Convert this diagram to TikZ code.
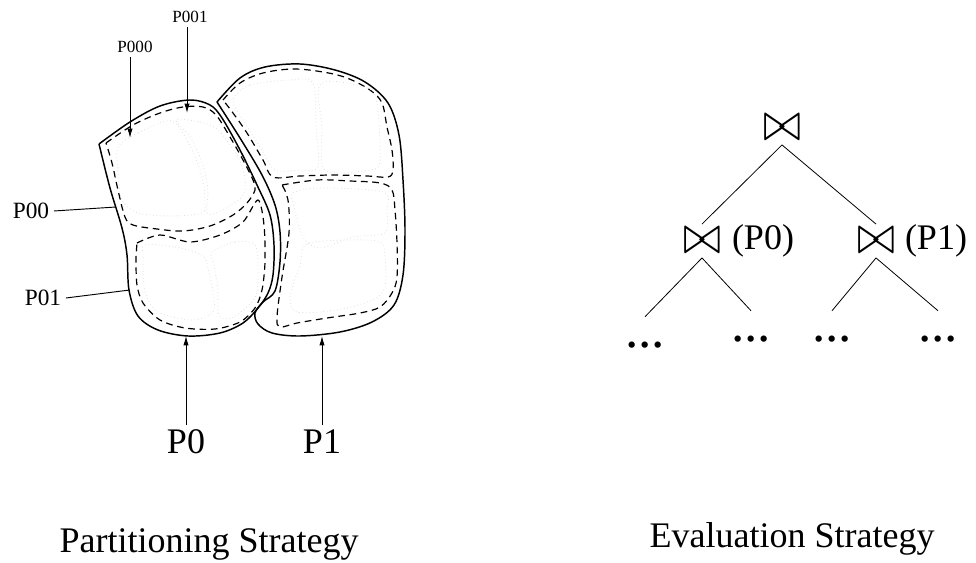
\documentclass[tikz,border=0pt]{standalone}
\usepackage{graphicx}
\usepackage{fontspec}
\setmainfont{Liberation Serif}
\usetikzlibrary{arrows.meta}

\newcommand{\joinsym}{\resizebox{28.5pt}{19pt}{\(\bowtie\)}}

\begin{document}
\begin{tikzpicture}[x=0.75pt,y=-0.75pt,
    outline/.style={line width=1.1pt},
    part/.style={line width=0.9pt,dash pattern=on 5pt off 3.5pt},
    sub/.style={gray!25,line width=0.6pt,dotted},
    pointer/.style={-{Latex[length=7pt,width=4pt]},line width=0.7pt},
    big/.style={font=\fontsize{27}{30}\selectfont},
    mid/.style={font=\fontsize{17.5}{20}\selectfont},
    small/.style={font=\fontsize{12.8}{14}\selectfont},
    joinop/.style={inner sep=0pt,minimum height=25pt},
    dotnode/.style={inner sep=0pt,minimum height=42pt,font=\fontsize{40}{44}\selectfont}]
\useasboundingbox (0,0) rectangle (976,563);

% partition P0 and its two halves
\draw[outline] plot[smooth,tension=0.55] coordinates {(99,144) (130,122) (160,106) (190,100) (210,105) (222,118) (240,150) (257,185) (270,215) (274,245) (273,275) (268,293) (258,308) (243,323) (220,333) (188,336) (158,330) (138,316) (129,290) (127,255) (122,228) (110,188) (99,144)};
\draw[part] plot[smooth,tension=0.55] coordinates {(106,143) (133,125) (160,113) (183,107) (203,107) (216,115) (230,137) (243,160) (253,180) (255,190) (247,203) (233,215) (210,226) (183,231) (157,229) (133,225) (125,217) (118,190) (112,163) (106,143)};
\draw[part] plot[smooth,tension=0.5] coordinates {(137,243) (160,235) (190,242) (220,235) (243,222) (258,200) (264,225) (265,262) (262,290) (255,308) (240,322) (215,329) (185,328) (160,320) (143,303) (137,285) (136,260) (137,243)};
\draw[sub] plot[smooth cycle] coordinates {(118,147) (138,133) (172,121) (192,150) (202,177) (205,200) (202,213) (170,216) (138,213) (122,200) (118,170)};
\draw[sub] plot[smooth cycle] coordinates {(176,120) (200,122) (218,130) (238,157) (245,180) (242,197) (218,212) (207,213) (208,190) (203,165) (191,138)};
\draw[sub] plot[smooth cycle] coordinates {(145,245) (175,247) (202,255) (208,268) (213,292) (213,312) (192,320) (158,312) (145,292) (143,258)};
\draw[sub] plot[smooth cycle] coordinates {(212,252) (235,242) (255,245) (258,272) (255,298) (232,318) (219,315) (218,290) (214,265)};

% partition P1 and its two halves
\draw[outline] plot[smooth,tension=0.55] coordinates {(217,102) (240,78) (265,67) (300,64) (335,70) (365,82) (388,103) (399,135) (403,180) (405,230) (403,275) (394,305) (372,322) (340,332) (300,336) (272,333) (258,324) (255,313) (263,302) (275,291) (280,262) (280,232) (275,205) (262,175) (240,138) (217,102)};
\draw[part] plot[smooth,tension=0.55] coordinates {(223,100) (240,83) (263,73) (293,69) (323,72) (347,78) (370,90) (382,103) (387,127) (392,150) (393,170) (388,177) (367,176) (333,175) (300,176) (273,177) (263,160) (247,133) (233,113) (223,100)};
\draw[part] plot[smooth,tension=0.55] coordinates {(282,185) (317,180) (350,181) (380,183) (392,190) (395,210) (397,243) (397,277) (392,293) (380,307) (360,313) (327,318) (297,323) (280,327) (277,317) (282,277) (289,233) (288,200) (282,185)};
\draw[sub] plot[smooth cycle] coordinates {(233,100) (250,85) (290,80) (313,83) (316,127) (318,167) (300,170) (275,170) (262,150) (243,120)};
\draw[sub] plot[smooth cycle] coordinates {(321,83) (367,88) (377,103) (380,160) (370,170) (325,170) (322,127)};
\draw[sub] plot[smooth cycle] coordinates {(293,193) (320,188) (383,192) (387,210) (385,233) (353,237) (320,248) (303,237) (293,203)};
\draw[sub] plot[smooth cycle] coordinates {(307,244) (350,240) (380,242) (385,257) (385,287) (373,300) (337,310) (297,312) (290,297) (300,265)};

% labels and pointers
\node[small] (p000) at (135,47) {P000};
\node[small] (p001) at (190,17) {P001};
\coordinate (t000) at (130,138);
\coordinate (t001) at (187,113);
\draw[pointer] (p000.south -| t000) -- (t000);
\draw[pointer] (p001.south -| t001) -- (t001);

\node[mid] (p00) at (31,211) {P00};
\node[mid] (p01) at (43,298) {P01};
\coordinate (e00) at (116,207);
\coordinate (e01) at (130,290);
\draw[line width=0.7pt] (p00.east) -- (e00);
\draw[line width=0.7pt] (p01.east) -- (e01);

\node[big] (p0) at (186,442) {P0};
\node[big] (p1) at (322,442) {P1};
\coordinate (t0) at (186,336);
\coordinate (t1) at (322,336);
\draw[pointer] (p0.north) -- (t0);
\draw[pointer] (p1.north) -- (t1);

\node[big,anchor=base] (ps) at (209,552) {Partitioning Strategy};

% join tree
\node[joinop] (root) at (782,128) {\joinsym};
\node[joinop] (j0) at (702,241) {\joinsym};
\node[joinop] (j1) at (876,241) {\joinsym};
\node[big] (l0) at (763,241) {(P0)};
\node[big] (l1) at (936,241) {(P1)};
\foreach \x/\y/\n in {645/345/d00, 751/339/d01, 832/339/d10, 938/339/d11}
    \node[dotnode] (\n) at (\x,\y) {...};
\draw[line width=0.6pt] (root.south) -- (j0.north);
\draw[line width=0.6pt] (root.south) -- (j1.north);
\draw[line width=0.6pt] (j0.south) -- (d00.north);
\draw[line width=0.6pt] (j0.south) -- (d01.north);
\draw[line width=0.6pt] (j1.south) -- (d10.north);
\draw[line width=0.6pt] (j1.south) -- (d11.north);

\node[big,anchor=base] (es) at (792,547) {Evaluation Strategy};
\end{tikzpicture}
\end{document}
